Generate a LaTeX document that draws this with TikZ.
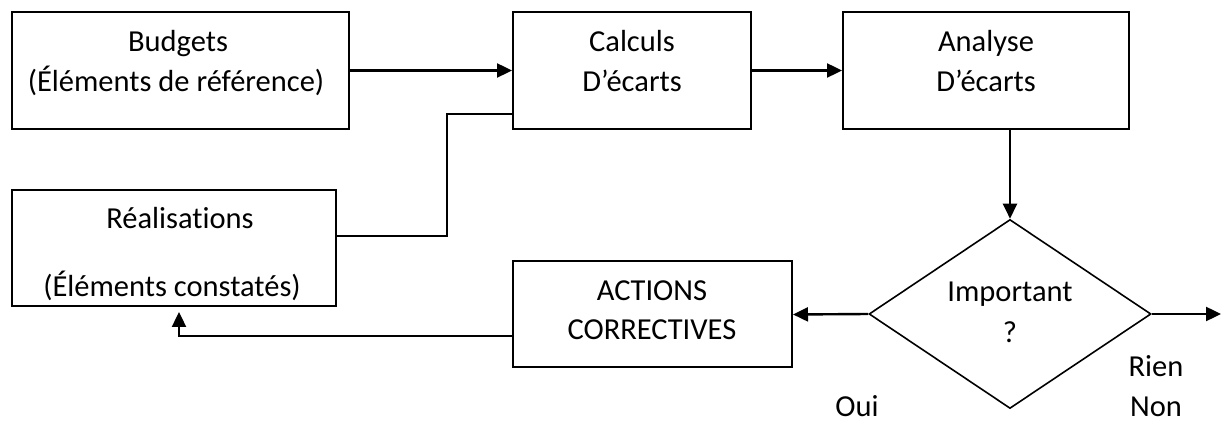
\documentclass[tikz,border=0pt]{standalone}
\usepackage{fontspec}
\setmainfont{Carlito}[Ligatures=NoCommon]
\usetikzlibrary{shapes.geometric,arrows.meta}
\begin{document}
\begin{tikzpicture}[x=1pt,y=-1pt,
  box/.style={draw, line width=2pt, inner sep=0pt},
  txt/.style={anchor=base, inner sep=0pt, font=\fontsize{30.5}{36}\selectfont},
  arr/.style={line width=2.4pt, -{Triangle[length=15pt,width=14pt]}},
  ln/.style={line width=2pt}]
\useasboundingbox (0,0) rectangle (1221,427);
% boxes
\node[box, minimum width=337pt, minimum height=117pt] (budgets) at (180.5,70.5) {};
\node[box, minimum width=238pt, minimum height=117pt] (calculs) at (632,70.5) {};
\node[box, minimum width=286pt, minimum height=117pt] (analyse) at (986,70.5) {};
\node[box, minimum width=324pt, minimum height=116pt] (real) at (174,248) {};
\node[box, minimum width=279pt, minimum height=106pt] (actions) at (652.5,314.5) {};
\node[draw, line width=1.6pt, shape=diamond, inner sep=0pt, aspect=1.49,
      minimum width=282pt, minimum height=189pt] (diamond) at (1010,314) {};
% texts
\node[txt] (budgetsT1) at (178,52) {Budgets};
\node[txt] (budgetsT2) at (176,92) {(Éléments de référence)};
\node[txt] (calculsT1) at (632,52) {Calculs};
\node[txt] (calculsT2) at (632,92) {D’écarts};
\node[txt] (analyseT1) at (986,52) {Analyse};
\node[txt] (analyseT2) at (986,92) {D’écarts};
\node[txt] (realT1) at (180,229) {Réalisations};
\node[txt] (realT2) at (172,297) {(Éléments constatés)};
\node[txt] (actionsT1) at (652,301) {ACTIONS};
\node[txt] (actionsT2) at (652,340) {CORRECTIVES};
\node[txt] (impT1) at (1010,302) {Important};
\node[txt] (impT2) at (1010,343) {?};
\node[txt] (rien) at (1156,377) {Rien};
\node[txt] (non) at (1156,417) {Non};
\node[txt] (oui) at (857,417) {Oui};
% connectors
\draw[arr] (budgets.east) -- (calculs.west);
\draw[arr] (calculs.east) -- (analyse.west);
\coordinate (j1) at (447,236);
\coordinate (j2) at (447,114);
\draw[ln] (real.east |- j1) -- (j1) -- (j2) -- (j2 -| calculs.west);
\draw[arr] (diamond.north |- analyse.south) -- (diamond.north);
\draw[arr] (diamond.west) -- (actions.east);
\coordinate (out) at (1221,314);
\draw[arr] (diamond.east) -- (out);
\coordinate (k) at (179,336);
\draw[arr, shorten >=5pt] (actions.west |- k) -- (k) -- (k |- real.south);
\end{tikzpicture}
\end{document}
